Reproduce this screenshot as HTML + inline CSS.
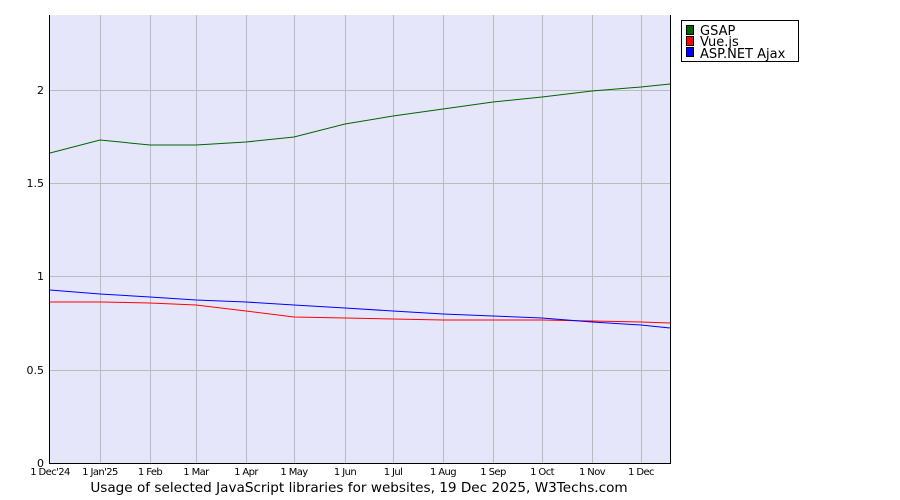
<!DOCTYPE html>
<html><head><meta charset="utf-8"><style>body{margin:0;background:#fff}svg{display:block}</style></head><body>
<svg width="900" height="500" xmlns="http://www.w3.org/2000/svg" font-family="DejaVu Sans, Verdana, sans-serif">
<rect x="50" y="15" width="620" height="448" fill="#e6e6fa"/>
<g stroke="#bbb" stroke-width="1">
<line x1="50" y1="370.5" x2="670" y2="370.5"/><line x1="50" y1="276.5" x2="670" y2="276.5"/><line x1="50" y1="183.5" x2="670" y2="183.5"/><line x1="50" y1="90.5" x2="670" y2="90.5"/>
<line x1="100.5" y1="15" x2="100.5" y2="463"/><line x1="150.5" y1="15" x2="150.5" y2="463"/><line x1="196.5" y1="15" x2="196.5" y2="463"/><line x1="246.5" y1="15" x2="246.5" y2="463"/><line x1="294.5" y1="15" x2="294.5" y2="463"/><line x1="345.5" y1="15" x2="345.5" y2="463"/><line x1="393.5" y1="15" x2="393.5" y2="463"/><line x1="443.5" y1="15" x2="443.5" y2="463"/><line x1="493.5" y1="15" x2="493.5" y2="463"/><line x1="542.5" y1="15" x2="542.5" y2="463"/><line x1="592.5" y1="15" x2="592.5" y2="463"/><line x1="641.5" y1="15" x2="641.5" y2="463"/>
</g>
<polyline fill="none" stroke="#006400" stroke-width="1" points="50,153 100,140 150,145 196,145 246,142 294,137 345,124 393,116 443,109 493,102 542,97 592,91 641,87 670,84"/>
<polyline fill="none" stroke="#ff0000" stroke-width="1" points="50,302 100,302 150,303 196,305 246,311 294,317 345,318 393,319 443,320 493,320 542,320 592,321 641,322 670,323"/>
<polyline fill="none" stroke="#0000ff" stroke-width="1" points="50,290 100,294 150,297 196,300 246,302 294,305 345,308 393,311 443,314 493,316 542,318 592,322 641,325 670,328"/>
<line x1="49.5" y1="15" x2="49.5" y2="464" stroke="#000"/>
<line x1="49" y1="463.5" x2="670" y2="463.5" stroke="#000"/>
<line x1="670.5" y1="15" x2="670.5" y2="464" stroke="#000"/>
<g font-size="11" text-anchor="end" fill="#000">
<text x="44" y="467">0</text><text x="44" y="374">0.5</text><text x="44" y="280">1</text><text x="44" y="187">1.5</text><text x="44" y="94">2</text>
</g>
<g font-size="10" text-anchor="middle" fill="#000" letter-spacing="-0.6">
<text x="50" y="475">1 Dec'24</text><text x="100" y="475">1 Jan'25</text><text x="150" y="475">1 Feb</text><text x="196" y="475">1 Mar</text><text x="246" y="475">1 Apr</text><text x="294" y="475">1 May</text><text x="345" y="475">1 Jun</text><text x="393" y="475">1 Jul</text><text x="443" y="475">1 Aug</text><text x="493" y="475">1 Sep</text><text x="542" y="475">1 Oct</text><text x="592" y="475">1 Nov</text><text x="641" y="475">1 Dec</text>
</g>
<text x="359" y="492" font-size="13.6" text-anchor="middle" fill="#000">Usage of selected JavaScript libraries for websites, 19 Dec 2025, W3Techs.com</text>
<rect x="681.5" y="20.5" width="117" height="41" fill="#fff" stroke="#000"/>
<rect x="686.5" y="25.5" width="7" height="9" fill="#006400" stroke="#000"/>
<rect x="686.5" y="36.5" width="7" height="9" fill="#ff0000" stroke="#000"/>
<rect x="686.5" y="47.5" width="7" height="9" fill="#0000ff" stroke="#000"/>
<g font-size="13" fill="#000"><text x="700" y="35">GSAP</text><text x="700" y="46">Vue.js</text><text x="700" y="58">ASP.NET Ajax</text></g>
</svg>
</body></html>
